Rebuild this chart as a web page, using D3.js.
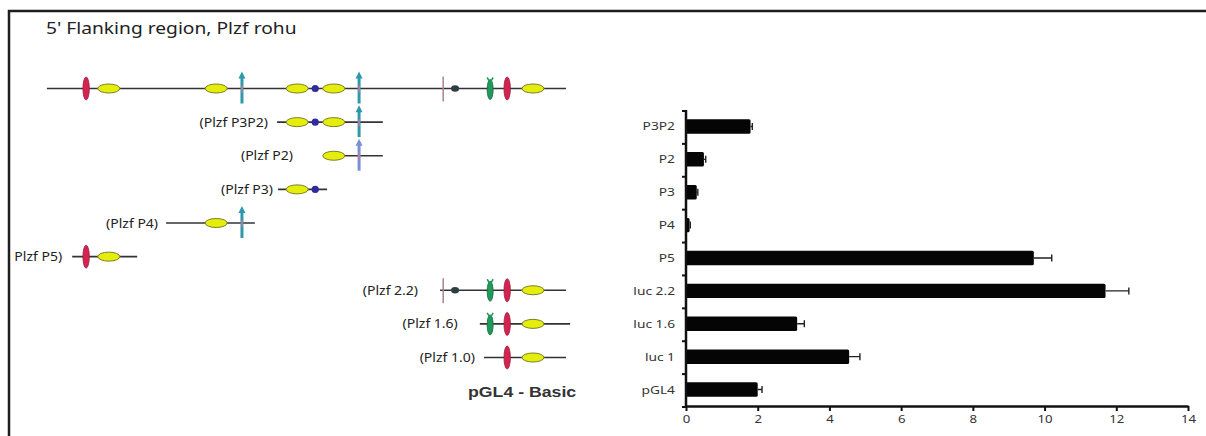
<!DOCTYPE html>
<html>
<head>
<meta charset="utf-8">
<script src="https://cdn.jsdelivr.net/npm/d3@7"></script>
<style>
  body { margin: 0; background: #fff; }
  svg { display: block; font-family: "Noto Sans", "Open Sans", sans-serif; }
</style>
</head>
<body>
<svg id="fig" width="1206" height="436"></svg>
<script>
// bar chart data
var categories = ["P3P2", "P2", "P3", "P4", "P5", "luc 2.2", "luc 1.6", "luc 1", "pGL4"];
var values = [1.8, 0.5, 0.3, 0.1, 9.7, 11.7, 3.1, 4.55, 2.0];
var errors = [0.05, 0.05, 0.03, 0.02, 0.5, 0.65, 0.2, 0.3, 0.12];
var xTicks = [0, 2, 4, 6, 8, 10, 12, 14];

// promoter map: sites along the 5' region (relative units 0-100)
var siteTypes = ["red", "yellow", "yellow", "arrow", "yellow", "dot", "yellow", "arrow", "tick", "dark", "green", "red", "yellow"];
var sitePos = [7.0, 11.4, 32.2, 37.2, 47.9, 51.4, 55.0, 59.9, 76.2, 78.5, 85.3, 88.6, 93.6];

// deletion constructs
var constructLabels = ["", "(Plzf P3P2)", "(Plzf P2)", "(Plzf P3)", "(Plzf P4)", "Plzf P5)", "(Plzf 2.2)", "(Plzf 1.6)", "(Plzf 1.0)"];
var constructStart = [-0.6, 44.0, 52.9, 44.2, 22.5, 4.3, 75.6, 83.3, 84.1];
var constructEnd = [100, 64.5, 64.5, 53.7, 39.7, 16.9, 100, 100.8, 100];
var constructSites = [
  [0, 1, 2, 3, 4, 5, 6, 7, 8, 9, 10, 11, 12],
  [4, 5, 6, 7],
  [6, 7],
  [4, 5],
  [2, 3],
  [0, 1],
  [8, 9, 10, 11, 12],
  [10, 11, 12],
  [11, 12]
];

var labelGap = [0, 9, 30, 5, 8, 10, 22, 22, 9];

var svg = d3.select("#fig");

// widen text a bit, the figure is stretched horizontally
function stretch(sel, k) {
  sel.each(function () {
    var w = this.getComputedTextLength();
    if (w > 0) {
      d3.select(this).attr("textLength", w * k).attr("lengthAdjust", "spacingAndGlyphs");
    }
  });
}

// frame
svg.append("path")
    .attr("d", "M9,436V11H1206")
    .attr("fill", "none")
    .attr("stroke", "#1e1e1e")
    .attr("stroke-width", 2.5);

svg.append("text")
    .attr("x", 46)
    .attr("y", 34)
    .attr("font-size", 16)
    .attr("fill", "#222")
    .text("5' Flanking region, Plzf rohu")
    .call(stretch, 1.2);

// ---- promoter diagram ----
var px = d3.scaleLinear().domain([0, 100]).range([50, 566]);
var rowY = d3.scalePoint().domain(d3.range(constructLabels.length)).range([88.5, 357.5]);

var rows = svg.append("g").selectAll("g")
    .data(constructLabels)
    .enter()
    .append("g")
    .attr("transform", function (d, i) { return "translate(0," + rowY(i) + ")"; });

rows.append("line")
    .attr("x1", function (d, i) { return px(constructStart[i]); })
    .attr("x2", function (d, i) { return px(constructEnd[i]); })
    .attr("stroke", "#333")
    .attr("stroke-width", 1.6);

rows.append("text")
    .attr("x", function (d, i) { return px(constructStart[i]) - labelGap[i]; })
    .attr("y", 4.5)
    .attr("text-anchor", "end")
    .attr("font-size", 12.5)
    .attr("fill", "#222")
    .text(function (d) { return d; })
    .call(stretch, 1.12);

function drawSite(g, type, x, row) {
  if (type === "yellow") {
    g.append("ellipse").attr("cx", x).attr("cy", 0).attr("rx", 11).attr("ry", 4.5)
        .attr("fill", "#e4ee0a").attr("stroke", "#7d7f2a").attr("stroke-width", 1);
  } else if (type === "red") {
    g.append("ellipse").attr("cx", x).attr("cy", 0).attr("rx", 3.2).attr("ry", 11.5)
        .attr("fill", "#d42350").attr("stroke", "#9a2040").attr("stroke-width", 0.8);
  } else if (type === "green") {
    g.append("ellipse").attr("cx", x).attr("cy", 1).attr("rx", 3).attr("ry", 10)
        .attr("fill", "#1f9a5c").attr("stroke", "#17663f").attr("stroke-width", 0.8);
    g.append("path").attr("d", "M" + (x - 3) + ",-11L" + x + ",-6L" + (x + 3) + ",-11")
        .attr("fill", "none").attr("stroke", "#1f9a5c").attr("stroke-width", 1.5);
  } else if (type === "dot") {
    g.append("circle").attr("cx", x).attr("cy", 0).attr("r", 3.6).attr("fill", "#2e2aa0");
  } else if (type === "dark") {
    g.append("ellipse").attr("cx", x).attr("cy", 0).attr("rx", 4).attr("ry", 3.2).attr("fill", "#2f3f40");
  } else if (type === "tick") {
    g.append("line").attr("x1", x).attr("x2", x).attr("y1", -12).attr("y2", 13)
        .attr("stroke", "#a88499").attr("stroke-width", 1.5);
  } else if (type === "arrow") {
    var col = row === 2 ? "#7a90d4" : "#2f98aa";
    g.append("line").attr("x1", x).attr("x2", x).attr("y1", -11).attr("y2", 15)
        .attr("stroke", col).attr("stroke-width", 3);
    g.append("path").attr("d", "M" + (x - 3.5) + ",-10L" + x + ",-17L" + (x + 3.5) + ",-10Z")
        .attr("fill", col);
    g.append("line").attr("x1", x).attr("x2", x).attr("y1", -3).attr("y2", 4)
        .attr("stroke", "#c07a9a").attr("stroke-width", 1.5);
  }
}

rows.each(function (d, i) {
  var g = d3.select(this);
  constructSites[i].forEach(function (j) {
    drawSite(g, siteTypes[j], px(sitePos[j]), i);
  });
});

svg.append("text")
    .attr("x", 468)
    .attr("y", 397)
    .attr("font-family", "Liberation Sans, Arial, sans-serif")
    .attr("font-weight", "bold")
    .attr("font-size", 15)
    .attr("fill", "#333")
    .text("pGL4 - Basic")
    .call(stretch, 1.18);

// ---- bar chart ----
var x = d3.scaleLinear().domain([0, 14]).range([686, 1188]);
var y = d3.scaleBand().domain(categories).range([110, 406]).paddingInner(0.56).paddingOuter(0.28);
var step = y.step();

var chart = svg.append("g");

chart.selectAll(".bar")
    .data(categories)
    .enter()
    .append("rect")
    .attr("class", "bar")
    .attr("x", x(0))
    .attr("y", function (d) { return y(d); })
    .attr("width", function (d, i) { return x(values[i]) - x(0); })
    .attr("height", y.bandwidth())
    .attr("rx", 1.5)
    .attr("fill", "#050505");

// error bars
chart.selectAll(".err")
    .data(categories)
    .enter()
    .append("path")
    .attr("class", "err")
    .attr("d", function (d, i) {
      var cy = y(d) + y.bandwidth() / 2;
      var x1 = x(values[i]), x2 = x(values[i] + errors[i]);
      return "M" + x1 + "," + cy + "H" + x2 + "M" + x2 + "," + (cy - 3.5) + "V" + (cy + 3.5);
    })
    .attr("fill", "none")
    .attr("stroke", "#222")
    .attr("stroke-width", 1.4);

// y axis with ticks between categories
chart.append("line")
    .attr("x1", x(0)).attr("x2", x(0))
    .attr("y1", 110).attr("y2", 406)
    .attr("stroke", "#111")
    .attr("stroke-width", 2.5);

chart.selectAll(".ytick")
    .data(d3.range(categories.length + 1))
    .enter()
    .append("line")
    .attr("class", "ytick")
    .attr("x1", x(0) - 4).attr("x2", x(0))
    .attr("y1", function (d) { return 110 + d * step + 1; })
    .attr("y2", function (d) { return 110 + d * step + 1; })
    .attr("stroke", "#111")
    .attr("stroke-width", 2);

chart.selectAll(".ylab")
    .data(categories)
    .enter()
    .append("text")
    .attr("class", "ylab")
    .attr("x", x(0) - 11)
    .attr("y", function (d) { return y(d) + y.bandwidth() / 2 + 4; })
    .attr("text-anchor", "end")
    .attr("font-size", 11)
    .attr("fill", "#333")
    .text(function (d) { return d; })
    .call(stretch, 1.25);

// x axis
var xAxis = chart.append("g")
    .attr("transform", "translate(0,406)")
    .call(d3.axisBottom(x).tickValues(xTicks).tickSize(5).tickSizeOuter(0));

xAxis.select(".domain").attr("stroke", "#111").attr("stroke-width", 2.5);
xAxis.selectAll(".tick line").attr("stroke", "#111").attr("stroke-width", 2);
xAxis.selectAll(".tick text")
    .attr("font-family", "Noto Sans, sans-serif")
    .attr("font-size", 11)
    .attr("fill", "#333")
    .attr("dy", "0.85em")
    .call(stretch, 1.2);
</script>
</body>
</html>
